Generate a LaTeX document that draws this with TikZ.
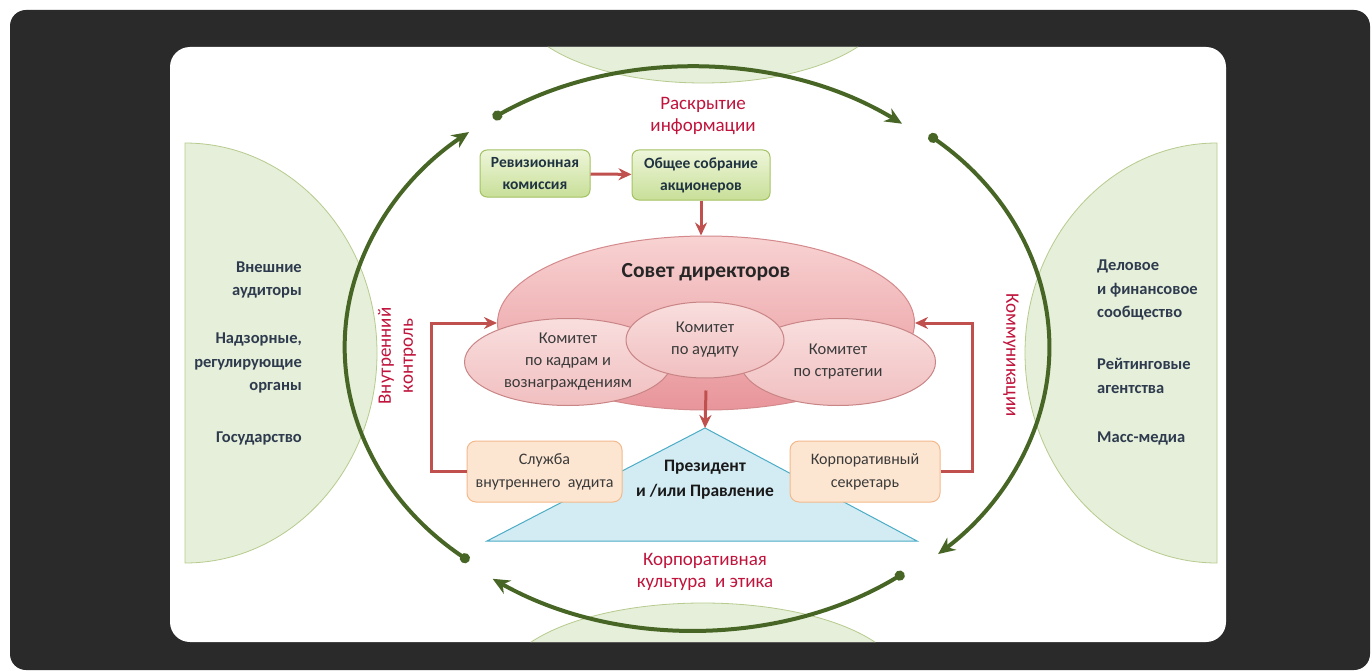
\documentclass[tikz,border=0pt]{standalone}
\usepackage{fontspec}
\setmainfont{Carlito}
\usetikzlibrary{shapes.geometric,arrows.meta}

\definecolor{framedark}{HTML}{2A2A2A}
\definecolor{moonfill}{HTML}{E6EFD9}
\definecolor{moonline}{HTML}{B7CB8E}
\definecolor{ringgreen}{HTML}{476626}
\definecolor{labelred}{HTML}{C0143C}
\definecolor{arrowred}{HTML}{C0504D}
\definecolor{gboxtop}{HTML}{EEF6DA}
\definecolor{gboxbot}{HTML}{C8DF98}
\definecolor{gboxline}{HTML}{A3C263}
\definecolor{gboxtext}{HTML}{1F3340}
\definecolor{sovettop}{HTML}{F8D2D2}
\definecolor{sovetbot}{HTML}{E8959A}
\definecolor{sovetline}{HTML}{D48A8C}
\definecolor{commtop}{HTML}{F9DEDE}
\definecolor{commbot}{HTML}{F1BFC0}
\definecolor{commline}{HTML}{C98586}
\definecolor{oboxfill}{HTML}{FDE6D1}
\definecolor{oboxline}{HTML}{F3B98B}
\definecolor{triafill}{HTML}{D3ECF4}
\definecolor{trialine}{HTML}{4BACC6}
\definecolor{innertext}{HTML}{3A3A3A}
\definecolor{sidetextc}{HTML}{2E3B4E}

\begin{document}
\begin{tikzpicture}[x=1pt,y=-1pt]
    % Define basic node styles
    \tikzset{
        greenbox/.style={
            rectangle,
            rounded corners=7pt,
            draw=gboxline,
            line width=1pt,
            top color=gboxtop,
            bottom color=gboxbot,
            text=gboxtext,
            inner sep=0pt,
            align=center,
            font=\fontsize{15.5}{22}\selectfont\bfseries
        },
        orangebox/.style={
            rectangle,
            rounded corners=9pt,
            draw=oboxline,
            line width=1pt,
            fill=oboxfill,
            text=innertext,
            inner sep=0pt,
            minimum height=61pt,
            align=center,
            font=\fontsize{16}{23}\selectfont
        },
        committee/.style={
            ellipse,
            draw=commline,
            line width=1pt,
            top color=commtop,
            bottom color=commbot,
            text=innertext,
            inner sep=0pt,
            align=center,
            font=\fontsize{16.5}{22}\selectfont
        },
        sidetext/.style={text=sidetextc, inner sep=0pt, font=\fontsize{16.5}{23.5}\selectfont\bfseries},
        redlabel/.style={text=labelred, inner sep=0pt, align=center, font=\fontsize{19}{22}\selectfont},
        redarrow/.style={-{Stealth[length=13pt,width=12pt]}, draw=arrowred, line width=3pt},
        ringarrow/.style={{Circle[length=10pt]}-{Stealth[length=17pt,width=15pt]}, draw=ringgreen, line width=4pt},
        halfmoon/.style={fill=moonfill, draw=moonline, line width=0.8pt}
    }

    % Frame and white panel
    \useasboundingbox[fill=white] (0,0) rectangle (1372,671);
    \fill[framedark, rounded corners=16pt] (10,10) rectangle (1370,670);
    \fill[white, rounded corners=20pt] (170,47) rectangle (1226,642);

    % Stakeholder half-discs (green)
    \begin{scope}
        \clip[rounded corners=20pt] (170,47) rectangle (1226,642);
        \draw[halfmoon] (703,3) ellipse[x radius=185, y radius=80];
        \draw[halfmoon] (703,683) ellipse[x radius=200, y radius=80];
    \end{scope}
    \draw[halfmoon] (185,143) arc[start angle=-90, end angle=90, x radius=192, y radius=210] -- cycle;
    \draw[halfmoon] (1217,143) arc[start angle=-90, end angle=-270, x radius=192, y radius=210] -- cycle;

    % External parties
    \node[sidetext, anchor=east, align=right] (auditors) at (302,280) {Внешние\\аудиторы};
    \node[sidetext, anchor=east, align=right] (regulators) at (302,363) {Надзорные,\\регулирующие\\органы};
    \node[sidetext, anchor=east, align=right] (state) at (302,438) {Государство};
    \node[sidetext, anchor=west, align=left] (finance) at (1097,290) {Деловое\\и финансовое\\сообщество};
    \node[sidetext, anchor=west, align=left] (rating) at (1097,376) {Рейтинговые\\агентства};
    \node[sidetext, anchor=west, align=left] (media) at (1097,438) {Масс-медиа};

    % Outer ring
    \coordinate (ringTL) at (493,118);
    \coordinate (ringTR) at (929,135);
    \coordinate (ringBR) at (904,573);
    \coordinate (ringBL) at (469,561);
    \draw[ringarrow] (ringTL) arc[start angle=-125, end angle=-53, x radius=348, y radius=280];
    \draw[ringarrow] (ringTR) arc[start angle=-49, end angle=47, x radius=350, y radius=282];
    \draw[ringarrow] (ringBR) arc[start angle=53, end angle=125, x radius=350, y radius=282];
    \draw[ringarrow] (ringBL) arc[start angle=130, end angle=230, x radius=348, y radius=280];

    % Ring labels
    \node[redlabel] (disclosure) at (703,116) {Раскрытие\\информации};
    \node[redlabel] (culture) at (705,572) {Корпоративная\\культура \ и этика};
    \node[redlabel, rotate=90] (control) at (397,356) {Внутренний\\контроль};
    \node[redlabel, rotate=-90] (comms) at (1011,355) {Коммуникации};

    % Shareholders (green)
    \node[greenbox, minimum width=110pt, minimum height=47pt] (audit) at (535,173.5) {Ревизионная\\комиссия};
    \node[greenbox, minimum width=138pt, minimum height=50pt] (meeting) at (701,175) {Общее собрание\\акционеров};

    % Board and committees (red)
    \node[ellipse, draw=sovetline, line width=1pt, top color=sovettop, bottom color=sovetbot,
          minimum width=417pt, minimum height=174pt, inner sep=0pt] (board) at (706,323) {};
    \node[font=\fontsize{21.5}{22}\selectfont\bfseries, text=black!85] (boardtitle) at (706,272) {Совет директоров};
    \node[committee, minimum width=207pt, minimum height=87pt] (hr) at (568,362) {Комитет\\по кадрам и\\вознаграждениям};
    \node[committee, minimum width=195pt, minimum height=87pt] (strategy) at (838,362) {Комитет\\по стратегии};
    \node[committee, minimum width=158pt, minimum height=76pt] (auditcom) at (705,340) {Комитет\\по аудиту};

    % Management (blue)
    \coordinate (apex) at (705,428);
    \coordinate (baseL) at (487,541);
    \coordinate (baseR) at (917,541);
    \draw[fill=triafill, draw=trialine, line width=1pt] (apex) -- (baseR) -- (baseL) -- cycle;
    \node[font=\fontsize{17.5}{25}\selectfont\bfseries, text=black!90, align=center] (president) at (705,480) {Президент\\и /или Правление};

    % Support units (orange)
    \node[orangebox, minimum width=155pt] (internal) at (544.5,471.5) {Служба\\внутреннего \ аудита};
    \node[orangebox, minimum width=150pt] (secretary) at (865,471.5) {Корпоративный\\секретарь};

    % Connections
    \draw[redarrow] (audit) -- (meeting);
    \draw[redarrow] (meeting.south) -- (meeting.south |- board.north);
    \draw[redarrow] ([yshift=20pt]board.south) -- (apex);
    \draw[redarrow] (internal.west) -- ++(-35,0) |- (board.west);
    \draw[redarrow] (secretary.east) -- ++(32,0) |- (board.east);
\end{tikzpicture}
\end{document}
